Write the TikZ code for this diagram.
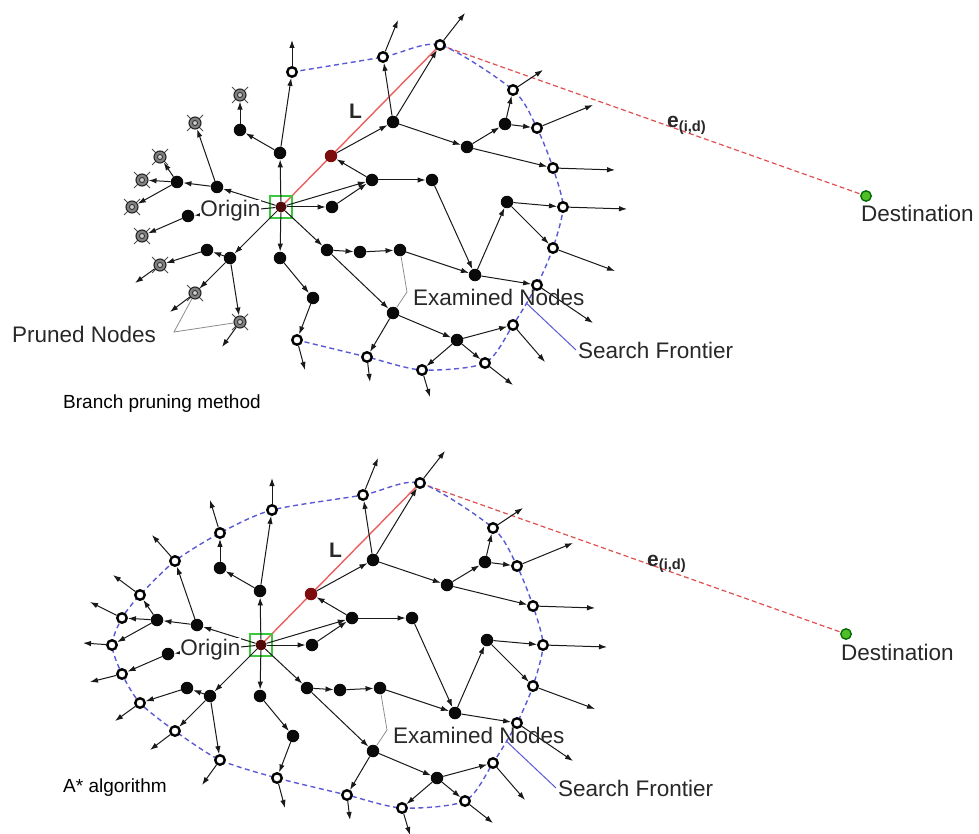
\documentclass[tikz,border=0pt]{standalone}
\usepackage{fontspec}
\setmainfont{Liberation Sans}
\usetikzlibrary{arrows.meta,backgrounds,calc}

\definecolor{nodeblack}{RGB}{10,10,10}
\definecolor{rednode}{RGB}{125,12,12}
\definecolor{origfill}{RGB}{80,10,10}
\definecolor{origgreen}{RGB}{60,200,60}
\definecolor{destgreen}{RGB}{80,190,40}
\definecolor{frontblue}{RGB}{90,90,215}
\definecolor{lred}{RGB}{235,95,95}
\definecolor{ered}{RGB}{225,80,80}
\definecolor{txt}{RGB}{40,40,40}

\tikzset{
  blk/.style={circle, fill=nodeblack, inner sep=0pt, minimum size=12.5pt},
  rnode/.style={blk, fill=rednode},
  opn/.style={circle, fill=white, draw=black, line width=2.4pt, inner sep=0pt, minimum size=9.5pt},
  prn/.style={circle, fill=black!50, draw=black!85, line width=1.1pt, inner sep=0pt, minimum size=12pt,
    path picture={\draw[black!85, line width=0.8pt, fill=black!20] (path picture bounding box.center) circle (2.5pt);}},
  prnx/.style={draw=black!70, line width=1pt},
  orig/.style={circle, fill=origfill, inner sep=0pt, minimum size=11pt},
  origsq/.style={rectangle, draw=origgreen, line width=1.4pt, inner sep=0pt, minimum size=22pt},
  dest/.style={circle, fill=destgreen, draw=black!60!green, line width=1.3pt, inner sep=0pt, minimum size=10.5pt},
  arr/.style={draw=black!90, line width=1pt, -{Latex[length=8pt,width=5.5pt]}},
  frontier/.style={draw=frontblue, line width=1.4pt, dash pattern=on 5pt off 3.5pt},
  lline/.style={draw=lred, line width=1.4pt},
  eline/.style={draw=ered, line width=1.2pt, dash pattern=on 5pt off 3pt},
  lbl/.style={font=\fontsize{22.5}{27}\selectfont, text=txt, inner sep=0pt, anchor=base west},
  capt/.style={font=\fontsize{19}{23}\selectfont, text=black, inner sep=0pt, anchor=base west},
  leader/.style={draw=black!45, line width=0.8pt},
  sfleader/.style={draw=frontblue, line width=1pt},
}

% The search tree shared by both panels
\newcommand\searchtree{%
  \node[orig] (O) at (281,207) {};
  \node[origsq] (Osq) at (281,207) {};
  \node[blk] (a1) at (280,153) {};
  \node[blk] (a2) at (240,130) {};
  \node[rnode] (r) at (331,156) {};
  \node[blk] (b1) at (393,122) {};
  \node[blk] (b2) at (372,180) {};
  \node[blk] (b3) at (432,180) {};
  \node[blk] (b4) at (332,207) {};
  \node[blk] (b5) at (467,147) {};
  \node[blk] (b6) at (505,124) {};
  \node[blk] (c1) at (327,250) {};
  \node[blk] (c2) at (360,252) {};
  \node[blk] (c3) at (400,250) {};
  \node[blk] (c4) at (475,275) {};
  \node[blk] (c5) at (507,202) {};
  \node[blk] (d1) at (393,313) {};
  \node[blk] (d2) at (457,340) {};
  \node[blk] (e1) at (280,258) {};
  \node[blk] (e2) at (313,298) {};
  \node[blk] (l1) at (217,187) {};
  \node[blk] (l2) at (177,182) {};
  \node[blk] (l3) at (188,216) {};
  \node[blk] (l4) at (230,258) {};
  \node[blk] (l5) at (207,250) {};
  % frontier nodes and the free ends of their arrows
  \node[opn] (f1) at (292,72) {};   \coordinate (t1) at (292,40);
  \node[opn] (f2) at (383,57) {};   \coordinate (t2) at (398,20);
  \node[opn] (f3) at (440,45) {};   \coordinate (t3) at (465,13);
  \node[opn] (f4) at (513,90) {};   \coordinate (t4) at (543,70);
  \node[opn] (f5) at (537,128) {};  \coordinate (t5) at (593,105);
  \node[opn] (f6) at (553,168) {};  \coordinate (t6) at (615,170);
  \node[opn] (f7) at (563,207) {};  \coordinate (t7) at (627,209);
  \node[opn] (f8) at (553,248) {};  \coordinate (t8) at (615,271);
  \node[opn] (f9) at (537,285) {};  \coordinate (t9) at (593,323);
  \node[opn] (f10) at (513,325) {}; \coordinate (t10) at (545,362);
  \node[opn] (f11) at (485,363) {}; \coordinate (t11) at (513,385);
  \node[opn] (f12) at (422,370) {}; \coordinate (t12) at (430,397);
  \node[opn] (f13) at (367,357) {}; \coordinate (t13) at (370,382);
  \node[opn] (f14) at (297,340) {}; \coordinate (t14) at (305,370);
  % left-hand leaves
  \node[leaf] (p1) at (240,95) {};  \coordinate (q1) at (230,62);
  \node[leaf] (p2) at (195,123) {}; \coordinate (q2) at (172,97);
  \node[leaf] (p3) at (160,157) {}; \coordinate (q3) at (133,137);
  \node[leaf] (p4) at (142,180) {}; \coordinate (q4) at (110,164);
  \node[leaf] (p5) at (132,207) {}; \coordinate (q5) at (103,205);
  \node[leaf] (p6) at (142,236) {}; \coordinate (q6) at (110,244);
  \node[leaf] (p7) at (160,265) {}; \coordinate (q7) at (135,283);
  \node[leaf] (p8) at (195,293) {}; \coordinate (q8) at (170,312);
  \node[leaf] (p9) at (240,322) {}; \coordinate (q9) at (222,347);
  \node[dest] (D) at (866,196) {};
  % tree edges
  \draw[arr] (O) -- (a1);
  \draw[arr] (a1) -- (f1);
  \draw[arr] (a1) -- (a2);
  \draw[arr] (a2) -- (p1);
  \draw[arr] (r) -- (b1);
  \draw[arr] (b1) -- (f2);
  \draw[arr] (b1) -- (f3);
  \draw[arr] (b2) -- (r);
  \draw[arr] (O) -- (b2);
  \draw[arr] (O) -- (b4);
  \draw[arr] (b4) -- (b2);
  \draw[arr] (b2) -- (b3);
  \draw[arr] (b1) -- (b5);
  \draw[arr] (b5) -- (b6);
  \draw[arr] (b6) -- (f4);
  \draw[arr] (b6) -- (f5);
  \draw[arr] (b5) -- (f6);
  \draw[arr] (b3) -- (c4);
  \draw[arr] (c4) -- (c5);
  \draw[arr] (c5) -- (f7);
  \draw[arr] (c5) -- (f8);
  \draw[arr] (c3) -- (c4);
  \draw[arr] (c4) -- (f9);
  \draw[arr] (O) -- (c1);
  \draw[arr] (c1) -- (c2);
  \draw[arr] (c2) -- (c3);
  \draw[arr] (c1) -- (d1);
  \draw[arr] (d1) -- (d2);
  \draw[arr] (d1) -- (f13);
  \draw[arr] (d2) -- (f10);
  \draw[arr] (d2) -- (f11);
  \draw[arr] (d2) -- (f12);
  \draw[arr] (O) -- (e1);
  \draw[arr] (e1) -- (e2);
  \draw[arr] (e2) -- (f14);
  \draw[arr] (O) -- (l1);
  \draw[arr] (l1) -- (l2);
  \draw[arr] (O) -- (l3);
  \draw[arr] (O) -- (l4);
  \draw[arr] (l4) -- (l5);
  \draw[arr] (l1) -- (p2);
  \draw[arr] (l2) -- (p3);
  \draw[arr] (l2) -- (p4);
  \draw[arr] (l2) -- (p5);
  \draw[arr] (l3) -- (p6);
  \draw[arr] (l5) -- (p7);
  \draw[arr] (l4) -- (p8);
  \draw[arr] (l4) -- (p9);
  \foreach \i in {1,...,14} {\draw[arr] (f\i) -- (t\i);}
  \draw[arr] (p7) -- (q7);
  \draw[arr] (p8) -- (q8);
  \draw[arr] (p9) -- (q9);
  % labels and leader lines
  \node[lbl, fill=white, inner sep=0.5pt, anchor=base east] (origlbl) at (261,217) {Origin};
  \node[lbl, font=\fontsize{21}{25}\selectfont\bfseries] (Llbl) at (349,119) {L};
  \node[lbl, font=\fontsize{21}{25}\selectfont\bfseries] (elbl) at (667,128) {e\textsubscript{(i,d)}};
  \node[lbl] (exlbl) at (413,305) {Examined Nodes};
  \node[lbl] (sflbl) at (578,358) {Search Frontier};
  \node[lbl] (dstlbl) at (861,222) {Destination};
  \coordinate (en) at (407,292);
  \draw[leader] (c3) -- (en) -- (d1);
  \coordinate (sa) at ($(f9.center)!0.45!(f10.center)$);
  \coordinate (sb) at (576,350);
  \draw[sfleader] (sa) -- (sb);
  \begin{pgfonlayer}{background}
    \draw[lline] (O.center) -- (f3.center);
    \draw[eline] (f3.center) -- (D.center);
  \end{pgfonlayer}
}

\begin{document}
\begin{tikzpicture}[x=1pt,y=-1pt]
\useasboundingbox (0,0) rectangle (979,834);
\begin{pgfonlayer}{background}
  \fill[white] (0,0) rectangle (979,834);
\end{pgfonlayer}

% Branch pruning: leaves on the left are cut off
\begin{scope}[name prefix=t-, leaf/.style=prn]
  \searchtree
  \begin{pgfonlayer}{background}
    \foreach \i in {1,...,9} {
      \draw[prnx] (p\i.center) +(-8,-8) -- +(8,8) +(-8,8) -- +(8,-8);
    }
    \draw[frontier] plot[smooth, tension=0.45] coordinates {(f1.center) (f2.center) (f3.center) (f4.center) (f5.center) (f6.center) (f7.center) (f8.center) (f9.center) (f10.center) (f11.center) (f12.center) (f13.center) (f14.center)};
  \end{pgfonlayer}
  \node[lbl] (prlbl) at (12,342) {Pruned Nodes};
  \coordinate (pn) at (174,332);
  \draw[leader] (p8) -- (pn) -- (p9);
\end{scope}

% A*: the whole frontier stays open
\begin{scope}[name prefix=b-, shift={(-20,438)}, leaf/.style=opn]
  \searchtree
  \foreach \i in {1,...,6} {\draw[arr] (p\i) -- (q\i);}
  \begin{pgfonlayer}{background}
    \draw[frontier] plot[smooth cycle, tension=0.45] coordinates {(f1.center) (f2.center) (f3.center) (f4.center) (f5.center) (f6.center) (f7.center) (f8.center) (f9.center) (f10.center) (f11.center) (f12.center) (f13.center) (f14.center) (p9.center) (p8.center) (p7.center) (p6.center) (p5.center) (p4.center) (p3.center) (p2.center) (p1.center)};
  \end{pgfonlayer}
\end{scope}

\node[capt] (cap1) at (63,408) {Branch pruning method};
\node[capt] (cap2) at (63,792) {A* algorithm};
\end{tikzpicture}
\end{document}
